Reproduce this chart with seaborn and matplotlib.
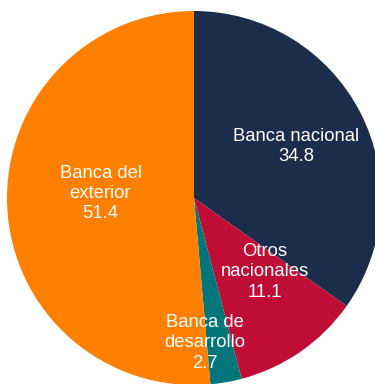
# pie: composicion del financiamiento por origen
import matplotlib
matplotlib.use('Agg')
import matplotlib.pyplot as plt
import seaborn as sns

sns.set_theme(style='white')
plt.rcParams['font.family'] = ['Liberation Sans', 'DejaVu Sans']

# data
categorias = ['Banca nacional', 'Otros nacionales', 'Banca de desarrollo', 'Banca del exterior']
etiquetas = ['Banca nacional', 'Otros\nnacionales', 'Banca de\ndesarrollo', 'Banca del\nexterior']
valores = [34.8, 11.1, 2.7, 51.4]

colores = sns.color_palette(['#1b2d4a', '#bf0d36', '#00757a', '#ff7f00'])

# label spots (axes coords of pie radius 1), excel "best fit" look
label_pos = [(0.545, 0.275), (0.38, -0.395), (0.06, -0.775), (-0.50, 0.025)]

fig = plt.figure(figsize=(3.75, 3.84), dpi=100)
ax = fig.add_axes([0, 0, 1, 1])

R = 187.0
cx, cy = 194.0, 198.0
ax.pie(valores, colors=colores, startangle=90, counterclock=False,
       radius=1, wedgeprops=dict(linewidth=0, edgecolor='none'))
ax.set_aspect('auto')
ax.set_xlim(-cx / R, (375 - cx) / R)
ax.set_ylim(-(384 - cy) / R, cy / R)
ax.axis('off')

for lab, v, (x, y) in zip(etiquetas, valores, label_pos):
    ax.text(x, y, f'{lab}\n{v:.1f}', ha='center', va='center', color='white',
            fontsize=13.3, linespacing=1.25)

fig.savefig('out.png', dpi=100)
